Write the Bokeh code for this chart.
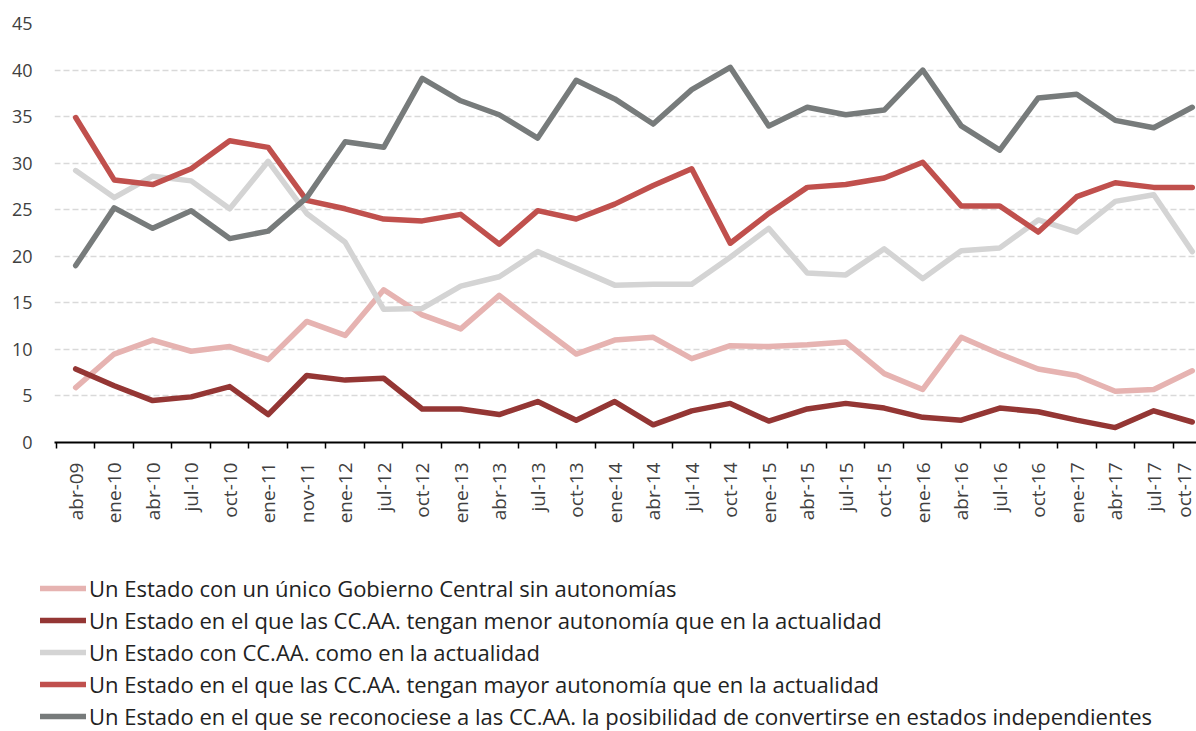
from math import pi
from bokeh.plotting import figure
from bokeh.layouts import column, row
from bokeh.models import Range1d, FixedTicker, Legend, LegendItem
from bokeh.embed import file_html
from bokeh.resources import INLINE

periodos = ["abr-09", "ene-10", "abr-10", "jul-10", "oct-10", "ene-11", "nov-11", "ene-12",
            "jul-12", "oct-12", "ene-13", "abr-13", "jul-13", "oct-13", "ene-14", "abr-14",
            "jul-14", "oct-14", "ene-15", "abr-15", "jul-15", "oct-15", "ene-16", "abr-16",
            "jul-16", "oct-16", "ene-17", "abr-17", "jul-17", "oct-17"]

unico = [5.9, 9.5, 11.0, 9.8, 10.3, 8.9, 13.0, 11.5, 16.4, 13.7, 12.2, 15.8, 12.6, 9.5, 11.0,
         11.3, 9.0, 10.4, 10.3, 10.5, 10.8, 7.4, 5.7, 11.3, 9.5, 7.9, 7.2, 5.5, 5.7, 7.7]
menor = [7.9, 6.1, 4.5, 4.9, 6.0, 3.0, 7.2, 6.7, 6.9, 3.6, 3.6, 3.0, 4.4, 2.4, 4.4,
         1.9, 3.4, 4.2, 2.3, 3.6, 4.2, 3.7, 2.7, 2.4, 3.7, 3.3, 2.4, 1.6, 3.4, 2.2]
actual = [29.2, 26.3, 28.6, 28.1, 25.1, 30.2, 24.6, 21.5, 14.3, 14.4, 16.8, 17.8, 20.5, 18.7, 16.9,
          17.0, 17.0, 19.9, 23.0, 18.2, 18.0, 20.8, 17.6, 20.6, 20.9, 23.9, 22.6, 25.9, 26.6, 20.5]
mayor = [34.9, 28.2, 27.7, 29.4, 32.4, 31.7, 26.0, 25.1, 24.0, 23.8, 24.5, 21.3, 24.9, 24.0, 25.6,
         27.6, 29.4, 21.4, 24.6, 27.4, 27.7, 28.4, 30.1, 25.4, 25.4, 22.6, 26.4, 27.9, 27.4, 27.4]
indep = [19.0, 25.2, 23.0, 24.9, 21.9, 22.7, 26.3, 32.3, 31.7, 39.1, 36.7, 35.2, 32.7, 38.9, 36.9,
         34.2, 37.9, 40.3, 34.0, 36.0, 35.2, 35.7, 40.0, 34.0, 31.4, 37.0, 37.4, 34.6, 33.8, 36.0]

series = [
    ("Un Estado con un único Gobierno Central sin autonomías", unico, "#E6B3B1"),
    ("Un Estado en el que las CC.AA. tengan menor autonomía que en la actualidad", menor, "#943634"),
    ("Un Estado con CC.AA. como en la actualidad", actual, "#D4D4D4"),
    ("Un Estado en el que las CC.AA. tengan mayor autonomía que en la actualidad", mayor, "#C0504D"),
    ("Un Estado en el que se reconociese a las CC.AA. la posibilidad de convertirse en estados independientes", indep, "#777B7B"),
]

FONT = "Open Sans"
n = len(periodos)
x = list(range(n))

# ---------------- main chart ----------------
p = figure(width=1196, height=560, output_backend="svg", toolbar_location=None,
           x_range=Range1d(-0.55, n - 1 + 0.11), y_range=Range1d(0, 45),
           min_border_left=54, min_border_right=0, min_border_top=23, min_border_bottom=118)
p.outline_line_color = None
p.background_fill_color = "white"

p.xgrid.grid_line_color = None
p.ygrid.grid_line_color = "#D9D9D9"
p.ygrid.grid_line_width = 1.5
p.ygrid.grid_line_dash = "6 3"

p.yaxis.ticker = FixedTicker(ticks=list(range(0, 46, 5)))
p.yaxis.axis_line_color = None
p.yaxis.major_tick_line_color = None
p.yaxis.minor_tick_line_color = None
p.yaxis.major_label_standoff = 16
p.yaxis.major_label_text_font = FONT
p.yaxis.major_label_text_font_size = "18px"
p.yaxis.major_label_text_color = "#404040"

p.xaxis.ticker = FixedTicker(ticks=x, minor_ticks=[i - 0.5 for i in range(n + 1)])
p.xaxis.major_label_overrides = {i: lab for i, lab in enumerate(periodos)}
p.xaxis.major_label_orientation = pi / 2
p.xaxis.major_tick_line_color = None
p.xaxis.major_tick_out = 0
p.xaxis.major_tick_in = 0
p.xaxis.minor_tick_line_color = "#000000"
p.xaxis.minor_tick_line_width = 1.5
p.xaxis.minor_tick_out = 6
p.xaxis.minor_tick_in = 0
p.xaxis.axis_line_color = "#000000"
p.xaxis.axis_line_width = 2
p.xaxis.major_label_standoff = 14
p.xaxis.major_label_text_font = FONT
p.xaxis.major_label_text_font_size = "19px"
p.xaxis.major_label_text_color = "#404040"

for label, vals, col in series:
    p.line(x, vals, line_color=col, line_width=5.5, line_join="round", line_cap="round")

# ---------------- legend strip ----------------
q = figure(width=1196, height=171, output_backend="svg", toolbar_location=None,
           x_range=Range1d(1000, 1001), y_range=Range1d(1000, 1001),
           x_axis_location=None, y_axis_location=None,
           min_border_left=0, min_border_right=0, min_border_top=0, min_border_bottom=0)
q.outline_line_color = None
q.grid.visible = False

items = []
for label, vals, col in series:
    r = q.line(x, vals, line_color=col, line_width=5.5, line_cap="round")
    items.append(LegendItem(label=label, renderers=[r]))

legend = Legend(items=items, location=(40, 0), orientation="vertical",
                glyph_width=46, glyph_height=24, label_height=24, spacing=2,
                label_standoff=3, padding=0, margin=0,
                label_text_font=FONT, label_text_font_size="22px", label_text_color="#222222",
                border_line_color=None, background_fill_alpha=0)
q.add_layout(legend, "center")

layout = column(p, row(q), spacing=0)
open("out.html", "w").write(file_html(layout, INLINE))
